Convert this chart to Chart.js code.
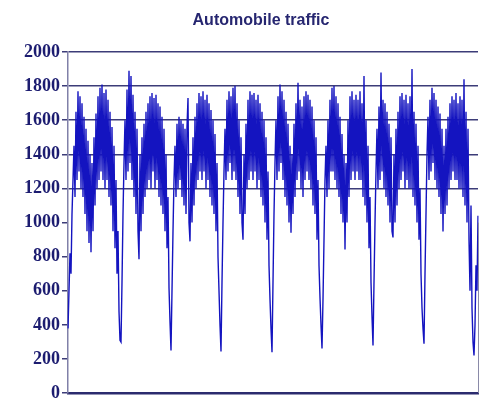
<!DOCTYPE html>
<html>
<head>
<meta charset="utf-8">
<script src="https://cdn.jsdelivr.net/npm/chart.js@4/dist/chart.umd.min.js"></script>
<style>
  html, body { margin: 0; padding: 0; background: #ffffff; }
  #wrap { width: 487px; height: 406px; }
</style>
</head>
<body>
<div id="wrap"><canvas id="chart" width="487" height="406"></canvas></div>
<script>
// traffic counts, roughly one value per pixel
const firstDay = [380, 600, 820, 700, 1050, 1250, 1450, 1150, 1650, 1250, 1770, 1300, 1740, 1200, 1700, 1150,
    1620, 1050, 1550, 950, 1480, 880, 1400, 826, 1350, 950, 1500, 1100, 1640, 1200, 1740, 1250, 1790, 1300,
    1810, 1250, 1760, 1200, 1780, 1250, 1720, 1150, 1650, 1100, 1560, 950, 1450, 850, 1250, 700, 950, 480, 310];

const day1 = [300, 650, 1050, 1350, 1600, 1250, 1780, 1300, 1890, 1350, 1860, 1250, 1750, 1150, 1650, 1050,
    1550, 950, 785, 1400, 950, 1500, 1050, 1580, 1150, 1650, 1200, 1700, 1250, 1740, 1200, 1760, 1300, 1730,
    1200, 1750, 1250, 1700, 1150, 1680, 1100, 1620, 1050, 1550, 950, 1400, 850, 1150, 620, 420];

const day2 = [250, 600, 950, 1250, 1450, 1150, 1580, 1200, 1620, 1250, 1600, 1150, 1580, 1100, 1550, 1050,
    1560, 1730, 1000, 890, 1350, 1000, 1500, 1100, 1620, 1200, 1700, 1250, 1760, 1300, 1740, 1250, 1770, 1300,
    1720, 1200, 1750, 1250, 1700, 1150, 1660, 1100, 1600, 1050, 1520, 950, 1350, 800, 600, 400];

const day3 = [245, 650, 1000, 1300, 1550, 1250, 1720, 1300, 1770, 1350, 1740, 1250, 1790, 1300, 1800, 1250,
    1700, 1150, 1600, 1050, 1500, 1000, 900, 1400, 1050, 1580, 1200, 1720, 1250, 1770, 1300, 1750, 1250, 1760,
    1300, 1720, 1200, 1750, 1250, 1700, 1150, 1650, 1100, 1600, 1000, 1500, 900, 1300, 750, 550, 380];

const day4 = [240, 650, 1050, 1350, 1600, 1250, 1740, 1300, 1810, 1350, 1770, 1250, 1720, 1150, 1650, 1100,
    1580, 1000, 1450, 940, 1400, 1050, 1580, 1150, 1700, 1250, 1820, 1300, 1720, 1200, 1680, 1150, 1740, 1250,
    1770, 1300, 1750, 1250, 1720, 1200, 1680, 1100, 1600, 1050, 1500, 900, 1250, 750, 560, 400];

const day5 = [262, 550, 900, 1250, 1450, 1150, 1600, 1200, 1720, 1300, 1790, 1300, 1800, 1250, 1740, 1200,
    1700, 1150, 1620, 1050, 1520, 1000, 1400, 843, 1350, 1000, 1600, 1150, 1740, 1250, 1770, 1300, 1720, 1250,
    1750, 1300, 1720, 1250, 1770, 1250, 1700, 1150, 1860, 1100, 1600, 1000, 1450, 850, 1150, 650, 450];

const day6 = [280, 650, 1000, 1300, 1550, 1200, 1680, 1250, 1880, 1300, 1720, 1200, 1700, 1150, 1650, 1100,
    1580, 1000, 1500, 950, 913, 1400, 1000, 1550, 1100, 1650, 1200, 1740, 1250, 1760, 1300, 1720, 1200, 1750,
    1250, 1700, 1200, 1740, 1200, 1900, 1150, 1650, 1100, 1580, 1000, 1450, 900, 1200, 700, 500, 380];

const day7 = [290, 700, 1050, 1400, 1620, 1250, 1720, 1300, 1790, 1350, 1760, 1250, 1720, 1200, 1680, 1150,
    1640, 1050, 1550, 948, 1450, 1050, 1550, 1100, 1620, 1200, 1700, 1250, 1740, 1300, 1720, 1250, 1760, 1250,
    1700, 1200, 1740, 1200, 1720, 1150, 1840, 1100, 1650, 1000, 1550, 900, 600, 1100, 500, 300];

const lastHours = [221, 400, 750, 600, 1040];

const yTicks = [0, 200, 400, 600, 800, 1000, 1200, 1400, 1600, 1800, 2000];

const traffic = [].concat(firstDay, day1, day2, day3, day4, day5, day6, day7, lastHours);
const labels = traffic.map((v, i) => i);

const chartTitle = "Automobile traffic";

// title sits a little right of the plot centre, drawn by hand
const titlePlugin = {
    id: "titlePlugin",
    afterDraw(c) {
        const ctx = c.ctx;
        const a = c.chartArea;
        ctx.save();
        ctx.fillStyle = "#262670";
        ctx.font = "bold 16px 'Liberation Sans'";
        ctx.textAlign = "center";
        ctx.textBaseline = "middle";
        ctx.fillText(chartTitle, (a.left + a.right) / 2 - 12, 21);
        ctx.restore();
    }
};

// short right frame piece, lower part only
const rightEdge = {
    id: "rightEdge",
    afterDraw(c) {
        const y = c.scales.y;
        const ctx = c.ctx;
        ctx.save();
        ctx.strokeStyle = "#8a8aa8";
        ctx.lineWidth = 1;
        ctx.beginPath();
        ctx.moveTo(c.chartArea.right + 0.5, y.getPixelForValue(1000));
        ctx.lineTo(c.chartArea.right + 0.5, y.getPixelForValue(0));
        ctx.stroke();
        ctx.restore();
    }
};

new Chart(document.getElementById("chart"), {
    type: "line",
    data: {
        labels: labels,
        datasets: [{
            data: traffic,
            borderColor: "#1414c0",
            borderWidth: 1.4,
            pointRadius: 0,
            tension: 0,
            fill: false
        }]
    },
    options: {
        responsive: false,
        animation: false,
        layout: {
            padding: { left: 8, right: 9, top: 52, bottom: 2 }
        },
        plugins: {
            legend: { display: false },
            tooltip: { enabled: false },
            title: { display: false }
        },
        scales: {
            x: {
                type: "category",
                ticks: { display: false },
                grid: { display: false, drawTicks: false },
                border: { display: true, color: "#2b2b6e", width: 2.5 }
            },
            y: {
                min: 0,
                max: 2000,
                afterFit: s => { s.width = 60; },
                afterBuildTicks: s => { s.ticks = yTicks.map(v => ({ value: v })); },
                ticks: {
                    color: "#1c1c70",
                    padding: 2,
                    font: { family: "Liberation Serif", size: 18, weight: "bold" },
                    callback: v => String(v)
                },
                grid: {
                    color: c => c.tick && c.tick.value >= 1200 ? "#3c3c78" : "rgba(0,0,0,0)",
                    tickColor: "#3c3c78",
                    tickLength: 6,
                    lineWidth: 1.5
                },
                border: { display: true, color: "#8080a8", width: 1.5 }
            }
        }
    },
    plugins: [titlePlugin, rightEdge]
});
</script>
</body>
</html>
